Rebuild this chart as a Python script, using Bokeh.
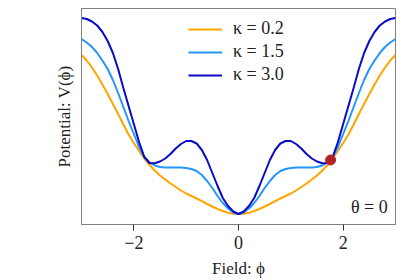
from bokeh.plotting import figure
from bokeh.models import Range1d, FixedTicker, Label
from bokeh.embed import file_html
from bokeh.resources import INLINE

# Field values (right half, mirrored for left half)
phi_half = [0.0, 0.1, 0.2, 0.3, 0.4, 0.5, 0.6, 0.7, 0.8, 0.9, 1.0,
            1.1, 1.2, 1.3, 1.4, 1.5, 1.6, 1.7, 1.8, 1.9, 2.0,
            2.1, 2.2, 2.3, 2.4, 2.5, 2.6, 2.7, 2.8, 2.9, 3.0]

V_k02_half = [0, 0.3, 1.2, 3, 5, 7.5, 10, 12.8, 15.5, 18, 20.5,
              23.5, 27, 30.5, 34.5, 38.5, 43.5, 49, 55.5, 63, 71,
              79.5, 89.5, 100, 110, 120, 129.5, 138.5, 146.5, 153.5, 159]
V_k15_half = [0, 1.5, 5.5, 11, 18, 26, 33, 39, 43, 45, 46,
              46.5, 46.5, 46.5, 46.5, 47, 48.5, 51.5, 57, 67, 80,
              93, 107, 121, 134, 145, 153.5, 161, 167, 171.5, 175]
V_k30_half = [0, 2.5, 8, 16, 28, 41, 54, 64, 70.5, 73, 73,
              70, 65.5, 60, 55.5, 52.5, 50.8, 51, 57, 72, 90,
              108, 126, 145, 161, 173, 182, 188.5, 192.5, 195, 196]

phi = [-v for v in phi_half[:0:-1]] + phi_half
V_k02 = V_k02_half[:0:-1] + V_k02_half
V_k15 = V_k15_half[:0:-1] + V_k15_half
V_k30 = V_k30_half[:0:-1] + V_k30_half

kappa_labels = ["κ = 0.2", "κ = 1.5", "κ = 3.0"]
colors = ["#ffa500", "#2496fa", "#0a0ac8"]

dot_phi = [1.76]
dot_V = [54]

x_ticks = [-2, 0, 2]
x_tick_labels = ["−2", "0", "2"]

FONT = "Liberation Serif"

p = figure(frame_width=314, frame_height=216, output_backend="svg",
           toolbar_location=None,
           x_range=Range1d(-3, 3), y_range=Range1d(-10.5, 205.5),
           min_border_left=81, min_border_right=4, min_border_top=8,
           min_border_bottom=10)

for ys, lab, c in zip([V_k02, V_k15, V_k30], kappa_labels, colors):
    p.line(phi, ys, line_color=c, line_width=2, legend_label=lab)

p.scatter(dot_phi, dot_V, size=10, fill_color="#b22222", line_color="#b22222")

p.xgrid.visible = False
p.ygrid.visible = False
p.outline_line_color = "#808080"
p.outline_line_width = 1

p.xaxis.ticker = FixedTicker(ticks=x_ticks)
p.xaxis.major_label_overrides = dict(zip(x_ticks, x_tick_labels))
p.xaxis.minor_tick_line_color = None
p.xaxis.major_tick_out = 6
p.xaxis.major_tick_in = 0
p.xaxis.major_tick_line_color = "#333333"
p.xaxis.axis_line_color = "#808080"
p.xaxis.major_label_text_font = FONT
p.xaxis.major_label_text_font_size = "18px"
p.xaxis.major_label_text_color = "#222222"
p.xaxis.major_label_standoff = 5
p.xaxis.axis_label = "Field: ϕ"
p.xaxis.axis_label_text_font = FONT
p.xaxis.axis_label_text_font_size = "17px"
p.xaxis.axis_label_text_font_style = "normal"
p.xaxis.axis_label_text_color = "#222222"
p.xaxis.axis_label_standoff = 7

p.yaxis.ticker = FixedTicker(ticks=[])
p.yaxis.minor_tick_line_color = None
p.yaxis.major_tick_out = 0
p.yaxis.major_tick_in = 0
p.yaxis.axis_line_color = "#808080"
p.yaxis.axis_label = "Potential: V(ϕ)"
p.yaxis.axis_label_text_font = FONT
p.yaxis.axis_label_text_font_size = "17px"
p.yaxis.axis_label_text_font_style = "normal"
p.yaxis.axis_label_text_color = "#222222"
p.yaxis.axis_label_standoff = 8

p.legend.location = (107, 139)
p.legend.background_fill_alpha = 0
p.legend.border_line_alpha = 0
p.legend.padding = 0
p.legend.margin = 0
p.legend.spacing = 2
p.legend.glyph_width = 34
p.legend.glyph_height = 20
p.legend.label_height = 20
p.legend.label_standoff = 11
p.legend.label_text_font = FONT
p.legend.label_text_font_size = "18px"
p.legend.label_text_color = "#222222"

theta = Label(x=2.85, y=-3, text="θ = 0", text_align="right",
              text_baseline="bottom", text_font=FONT, text_font_size="18px",
              text_color="#222222")
p.add_layout(theta)

open("out.html", "w").write(file_html(p, INLINE))
